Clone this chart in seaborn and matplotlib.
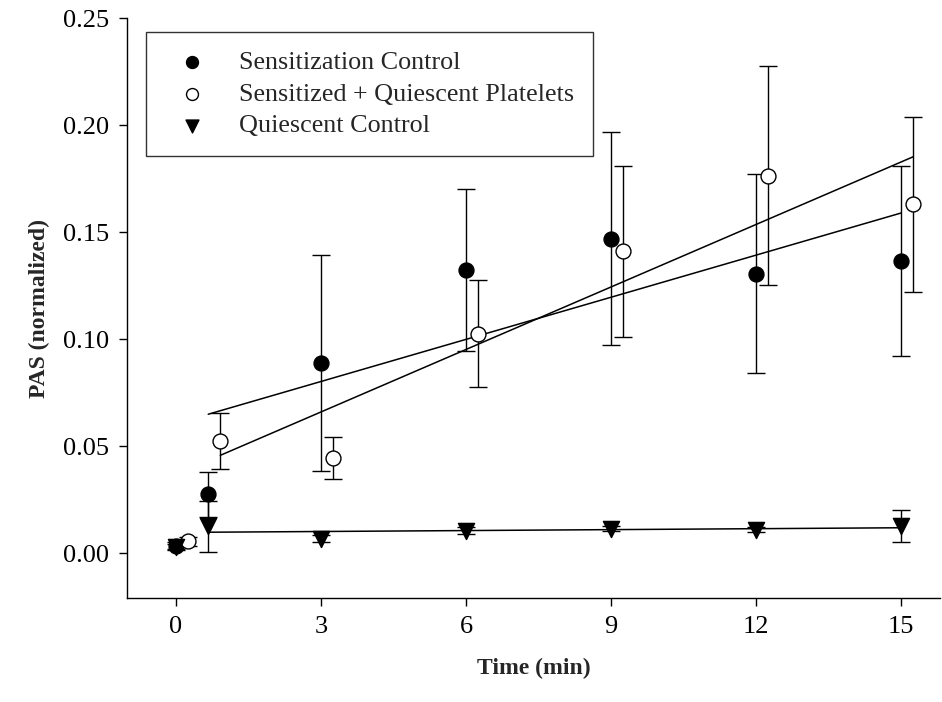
import matplotlib
matplotlib.use("Agg")
import matplotlib.pyplot as plt
import pandas as pd
import seaborn as sns

# Sensitization control
time_sc = [0, 0.67, 3, 6, 9, 12, 15]
pas_sc = [0.0035, 0.0275, 0.089, 0.1325, 0.147, 0.1305, 0.1365]
err_sc = [0.0015, 0.0105, 0.0505, 0.0378, 0.0498, 0.0465, 0.0445]

# Sensitized + quiescent platelets (plotted with a small time offset)
time_sq = [0.25, 0.92, 3.25, 6.25, 9.25, 12.25, 15.25]
pas_sq = [0.0055, 0.0525, 0.0445, 0.1025, 0.141, 0.1765, 0.163]
err_sq = [0.002, 0.013, 0.0097, 0.025, 0.040, 0.051, 0.041]

# Quiescent control
time_qc = [0, 0.67, 3, 6, 9, 12, 15]
pas_qc = [0.003, 0.0125, 0.0068, 0.0105, 0.0115, 0.011, 0.0125]
err_qc = [0.0015, 0.012, 0.0015, 0.0015, 0.0012, 0.001, 0.0075]

labels = ["Sensitization Control", "Sensitized + Quiescent Platelets", "Quiescent Control"]

sns.set_theme(style="ticks")
plt.rcParams["font.family"] = ["Liberation Serif", "DejaVu Serif"]
plt.rcParams.update({
    "axes.edgecolor": "black",
    "axes.linewidth": 1.0,
    "xtick.color": "black",
    "ytick.color": "black",
    "xtick.major.size": 6,
    "ytick.major.size": 6,
    "xtick.major.width": 1.0,
    "ytick.major.width": 1.0,
    "xtick.direction": "out",
    "ytick.direction": "out",
})

fig = plt.figure(figsize=(9.42, 7.02), dpi=100)
ax = fig.add_axes([0.1348, 0.148, 0.863, 0.826])

series = [
    (time_sc, pas_sc, err_sc, "o", "black", 115),
    (time_sq, pas_sq, err_sq, "o", "white", 115),
    (time_qc, pas_qc, err_qc, "v", "black", 135),
]

for (t, v, e, mk, fc, sz), lab in zip(series, labels):
    df = pd.DataFrame({"time": t, "pas": v})
    ax.errorbar(t, v, yerr=e, fmt="none", ecolor="black", elinewidth=1.0,
                capsize=6.5, capthick=1.0, zorder=2)
    # linear fit over the post-baseline time points
    sns.regplot(data=df.iloc[1:], x="time", y="pas", ax=ax, scatter=False,
                ci=None, truncate=True,
                line_kws=dict(color="black", lw=1.1, zorder=3))
    sns.scatterplot(data=df, x="time", y="pas", ax=ax, marker=mk, s=sz,
                    color=fc, edgecolor="black", linewidth=1.0, zorder=4,
                    label=lab)

ax.set_xlim(-1.01, 15.8)
ax.set_ylim(-0.021, 0.25)
ax.set_xticks([0, 3, 6, 9, 12, 15])
ax.set_yticks([0.0, 0.05, 0.10, 0.15, 0.20, 0.25])
ax.set_yticklabels([f"{y:.2f}" for y in [0.0, 0.05, 0.10, 0.15, 0.20, 0.25]])
ax.tick_params(labelsize=19, pad=7)
sns.despine(ax=ax)

ax.set_xlabel("Time (min)", fontsize=17, fontweight="bold", labelpad=14)
ax.set_ylabel("PAS (normalized)", fontsize=17, fontweight="bold", labelpad=9)

leg = ax.legend(loc="upper left", bbox_to_anchor=(0.0234, 0.977),
                borderaxespad=0, frameon=True, fancybox=False,
                fontsize=18.8, markerscale=0.8, handlelength=2.1,
                handletextpad=0.75, borderpad=0.72, labelspacing=0.33)
leg.get_frame().set_edgecolor("black")
leg.get_frame().set_linewidth(1.0)

fig.savefig("out.png", dpi=100)
